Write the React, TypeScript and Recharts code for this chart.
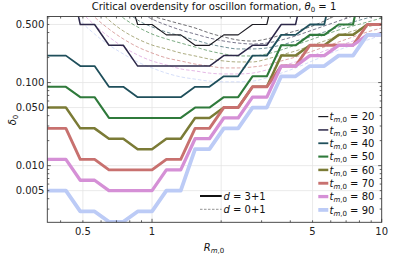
import React from 'react';
import { LineChart, Line, XAxis, YAxis, CartesianGrid } from 'recharts';

const W = 399;
const H = 256;
const PLOT = { left: 47.3, right: 381.7, top: 16.5, bottom: 222.3 };
const AXIS = '#3a3a3a';
const FONT = 'DejaVu Sans, sans-serif';

// R_{m,0} sample points (log spaced)
const radii = [
  0.3162, 0.3652, 0.4217, 0.487, 0.5623, 0.6494, 0.7499, 0.866, 1, 1.1548, 1.3335, 1.5399, 1.7783,
  2.0535, 2.3714, 2.7384, 3.1623, 3.6517, 4.217, 4.8697, 5.6234, 6.4938, 7.4989, 8.6596, 10,
];

const tValues = [20, 30, 40, 50, 60, 70, 80, 90];

// d = 3+1 (solid, stepped)
const solid20 = [3, 3, 3, 3, 3, 1.8, 1.8, 0.5, 0.5, 0.375, 0.375, 0.281, 0.281, 0.375, 0.375, 0.5, 0.5, 3, 3, 3, 3, 3, 3, 3, 3];
const solid30 = [3, 3, 3, 0.5, 0.5, 0.281, 0.281, 0.158, 0.158, 0.158, 0.158, 0.158, 0.158, 0.211, 0.211, 0.281, 0.281, 0.5, 0.5, 3, 3, 3, 3, 3, 3];
const solid40 = [0.211, 0.211, 0.211, 0.158, 0.158, 0.0889, 0.0889, 0.0667, 0.0667, 0.0667, 0.0667, 0.0889, 0.0889, 0.119, 0.119, 0.211, 0.211, 0.375, 0.375, 0.5, 0.5, 3, 3, 3, 3];
const solid50 = [0.0889, 0.0889, 0.0889, 0.0667, 0.0667, 0.0375, 0.0375, 0.0375, 0.0375, 0.0375, 0.0375, 0.05, 0.05, 0.0667, 0.0667, 0.119, 0.119, 0.281, 0.281, 0.375, 0.375, 0.5, 0.5, 3, 3];
const solid60 = [0.05, 0.05, 0.05, 0.0281, 0.0281, 0.0211, 0.0211, 0.0158, 0.0158, 0.0211, 0.0211, 0.0375, 0.0375, 0.05, 0.05, 0.0889, 0.0889, 0.211, 0.211, 0.281, 0.281, 0.375, 0.375, 0.5, 0.5];
const solid70 = [0.0281, 0.0281, 0.0281, 0.0119, 0.0119, 0.00889, 0.00889, 0.00889, 0.00889, 0.0119, 0.0119, 0.0281, 0.0281, 0.05, 0.05, 0.0889, 0.0889, 0.158, 0.158, 0.281, 0.281, 0.281, 0.281, 0.5, 0.5];
const solid80 = [0.0119, 0.0119, 0.0119, 0.00667, 0.00667, 0.005, 0.005, 0.005, 0.005, 0.00889, 0.00889, 0.0211, 0.0211, 0.0375, 0.0375, 0.0667, 0.0667, 0.158, 0.158, 0.211, 0.211, 0.281, 0.281, 0.375, 0.375];
const solid90 = [0.005, 0.005, 0.005, 0.00281, 0.00281, 0.00211, 0.00211, 0.00281, 0.00281, 0.005, 0.005, 0.0158, 0.0158, 0.0281, 0.0281, 0.05, 0.05, 0.119, 0.119, 0.158, 0.158, 0.211, 0.211, 0.375, 0.375];

// d = 0+1 (dashed, smooth)
const dashed20 = [3, 3, 3, 3, 3, 3, 2.2, 1.3, 0.65, 0.566, 0.507, 0.454, 0.395, 0.354, 0.325, 0.316, 0.335, 0.374, 0.418, 0.467, 0.551, 0.668, 0.812, 0.986, 1.2];
const dashed30 = [3, 3, 3, 3, 3, 2.2, 1.3, 0.746, 0.582, 0.493, 0.429, 0.384, 0.344, 0.316, 0.299, 0.291, 0.299, 0.325, 0.364, 0.418, 0.48, 0.551, 0.632, 0.726, 0.83];
const dashed40 = [3, 3, 3, 3, 2.2, 1.5, 0.79, 0.566, 0.467, 0.406, 0.364, 0.325, 0.291, 0.268, 0.254, 0.254, 0.261, 0.283, 0.316, 0.354, 0.406, 0.467, 0.535, 0.599, 0.668];
const dashed50 = [3, 3, 3, 2.2, 1.3, 0.859, 0.599, 0.467, 0.384, 0.335, 0.299, 0.268, 0.24, 0.221, 0.209, 0.209, 0.221, 0.247, 0.283, 0.325, 0.374, 0.429, 0.48, 0.535, 0.599];
const dashed60 = [3, 3, 2.5, 1.5, 0.859, 0.566, 0.418, 0.335, 0.283, 0.254, 0.227, 0.209, 0.192, 0.182, 0.177, 0.177, 0.192, 0.215, 0.24, 0.276, 0.316, 0.364, 0.418, 0.467, 0.521];
const dashed70 = [3, 3, 2, 0.933, 0.615, 0.441, 0.335, 0.268, 0.227, 0.198, 0.182, 0.167, 0.158, 0.15, 0.15, 0.154, 0.163, 0.182, 0.203, 0.233, 0.268, 0.308, 0.354, 0.406, 0.454];
const dashed80 = [3, 2.5, 1.49, 0.746, 0.493, 0.354, 0.268, 0.215, 0.182, 0.163, 0.146, 0.138, 0.13, 0.127, 0.127, 0.13, 0.142, 0.158, 0.177, 0.203, 0.24, 0.276, 0.316, 0.364, 0.406];
const dashed90 = [3, 2, 1.13, 0.566, 0.384, 0.283, 0.221, 0.177, 0.15, 0.13, 0.117, 0.11, 0.104, 0.102, 0.102, 0.104, 0.114, 0.13, 0.15, 0.177, 0.209, 0.247, 0.283, 0.325, 0.374];

const solidSeries = [solid20, solid30, solid40, solid50, solid60, solid70, solid80, solid90];
const dashedSeries = [dashed20, dashed30, dashed40, dashed50, dashed60, dashed70, dashed80, dashed90];

const colors = ['#1c1b22', '#2d2849', '#1f4f5b', '#2f7a3b', '#7b7b36', '#c8716f', '#d590d6', '#bccbf6'];
const widths = [1.2, 1.5, 1.8, 2.1, 2.5, 2.9, 3.3, 3.8];

const xTicks = [0.4, 0.5, 0.6, 0.7, 0.8, 0.9, 1, 2, 3, 4, 5, 6, 7, 8, 9, 10];
const xLabels: Record<string, string> = { '0.5': '0.5', '1': '1', '5': '5', '10': '10' };
const xMajor = [1, 10];
const yTicks = [
  0.003, 0.004, 0.005, 0.006, 0.007, 0.008, 0.009, 0.01, 0.02, 0.03, 0.04, 0.05, 0.06, 0.07, 0.08, 0.09,
  0.1, 0.2, 0.3, 0.4, 0.5, 0.6,
];
const yLabels: Record<string, string> = { '0.005': '0.005', '0.01': '0.010', '0.05': '0.050', '0.1': '0.100', '0.5': '0.500' };
const yMajor = [0.01, 0.1];

const data = radii.map((r, i) => {
  const row: Record<string, number> = { r };
  tValues.forEach((t, j) => {
    row['s' + t] = solidSeries[j][i];
    row['d' + t] = dashedSeries[j][i];
  });
  return row;
});

const XTick = (props: any) => {
  const { x, payload } = props;
  const v = payload.value;
  const len = xMajor.includes(v) ? 3.5 : 2;
  const label = xLabels[String(v)];
  return (
    <g>
      <line x1={x} x2={x} y1={PLOT.bottom} y2={PLOT.bottom - len} stroke={AXIS} strokeWidth={0.8} />
      <line x1={x} x2={x} y1={PLOT.top} y2={PLOT.top + len} stroke={AXIS} strokeWidth={0.8} />
      {label && (
        <text x={x} y={PLOT.bottom + 13} textAnchor="middle" fontSize={10} fontFamily={FONT} fill="#222">
          {label}
        </text>
      )}
    </g>
  );
};

const YTick = (props: any) => {
  const { y, payload } = props;
  const v = payload.value;
  const len = yMajor.includes(v) ? 3.5 : 2;
  const label = yLabels[String(v)];
  return (
    <g>
      <line x1={PLOT.left} x2={PLOT.left + len} y1={y} y2={y} stroke={AXIS} strokeWidth={0.8} />
      <line x1={PLOT.right} x2={PLOT.right - len} y1={y} y2={y} stroke={AXIS} strokeWidth={0.8} />
      {label && (
        <text x={PLOT.left - 3} y={y + 3.6} textAnchor="end" fontSize={10} fontFamily={FONT} fill="#222">
          {label}
        </text>
      )}
    </g>
  );
};

const Sub = ({ children, italic }: { children: React.ReactNode; italic?: boolean }) => (
  <tspan fontSize={7} dy={2} fontStyle={italic ? 'italic' : 'normal'}>
    {children}
  </tspan>
);

const Overlay = () => (
  <svg width={W} height={H} style={{ position: 'absolute', left: 0, top: 0, pointerEvents: 'none' }} fontFamily={FONT}>
    <rect
      x={PLOT.left}
      y={PLOT.top}
      width={PLOT.right - PLOT.left}
      height={PLOT.bottom - PLOT.top}
      fill="none"
      stroke={AXIS}
      strokeWidth={0.9}
    />
    <text x={214} y={10} textAnchor="middle" fontSize={10} fill="#111">
      Critical overdensity for oscillon formation, <tspan fontStyle="italic">θ</tspan>
      <Sub>0</Sub>
      <tspan dy={-2}> = 1</tspan>
    </text>
    <text x={214} y={250.5} textAnchor="middle" fontSize={10} fill="#111">
      <tspan fontStyle="italic">R</tspan>
      <tspan fontSize={7} dy={2}>
        <tspan fontStyle="italic">m</tspan>,0
      </tspan>
    </text>
    <text x={15.5} y={120} textAnchor="middle" fontSize={10} fill="#111" transform="rotate(-90 15.5 120)">
      <tspan fontStyle="italic">δ</tspan>
      <Sub>0</Sub>
    </text>
    {tValues.map((t, i) => {
      const cy = 116.6 + 13.33 * i;
      return (
        <g key={t}>
          <line x1={318.3} x2={328.3} y1={cy} y2={cy} stroke={colors[i]} strokeWidth={widths[i]} />
          <text x={329.5} y={cy + 3.6} fontSize={10} fill="#111">
            <tspan fontStyle="italic">t</tspan>
            <tspan fontSize={7} dy={2}>
              <tspan fontStyle="italic">m</tspan>,0
            </tspan>
            <tspan dy={-2}> = {t}</tspan>
          </text>
        </g>
      );
    })}
    <line x1={200} x2={221.7} y1={196} y2={196} stroke="#111" strokeWidth={2} />
    <text x={223.5} y={199.6} fontSize={10} fill="#111">
      <tspan fontStyle="italic">d</tspan> = 3+1
    </text>
    <line x1={200} x2={221.7} y1={209.3} y2={209.3} stroke="#888" strokeWidth={0.9} strokeDasharray="2.5 1.5" />
    <text x={223.5} y={212.9} fontSize={10} fill="#111">
      <tspan fontStyle="italic">d</tspan> = 0+1
    </text>
  </svg>
);

export default function App() {
  return (
    <div style={{ position: 'absolute', left: 0, top: 0, width: W, height: H, background: '#fff' }}>
      <LineChart
        width={W}
        height={H}
        data={data}
        margin={{ top: PLOT.top, right: W - PLOT.right, bottom: H - PLOT.bottom - 30, left: PLOT.left - 40 }}
      >
        <CartesianGrid
          stroke="#e4e4e4"
          strokeWidth={0.8}
          verticalValues={[0.5, 1, 2, 5, 10]}
          horizontalValues={[0.005, 0.01, 0.05, 0.1, 0.5]}
        />
        <XAxis
          dataKey="r"
          type="number"
          scale="log"
          domain={[0.35, 10]}
          allowDataOverflow
          ticks={xTicks}
          interval={0}
          tick={(p: any) => <XTick {...p} />}
          tickLine={false}
          axisLine={false}
          height={30}
        />
        <YAxis
          type="number"
          scale="log"
          domain={[0.00208, 0.624]}
          allowDataOverflow
          ticks={yTicks}
          interval={0}
          tick={(p: any) => <YTick {...p} />}
          tickLine={false}
          axisLine={false}
          width={40}
        />
        {tValues.map((t, i) => (
          <Line
            key={'d' + t}
            dataKey={'d' + t}
            type="monotone"
            stroke={colors[i]}
            strokeOpacity={0.7}
            strokeWidth={0.9}
            strokeDasharray="3.5 2"
            dot={false}
            activeDot={false}
            isAnimationActive={false}
          />
        ))}
        {tValues.map((t, i) => (
          <Line
            key={'s' + t}
            dataKey={'s' + t}
            type="linear"
            stroke={colors[i]}
            strokeWidth={widths[i]}
            strokeLinejoin="round"
            dot={false}
            activeDot={false}
            isAnimationActive={false}
          />
        ))}
      </LineChart>
      <Overlay />
    </div>
  );
}
